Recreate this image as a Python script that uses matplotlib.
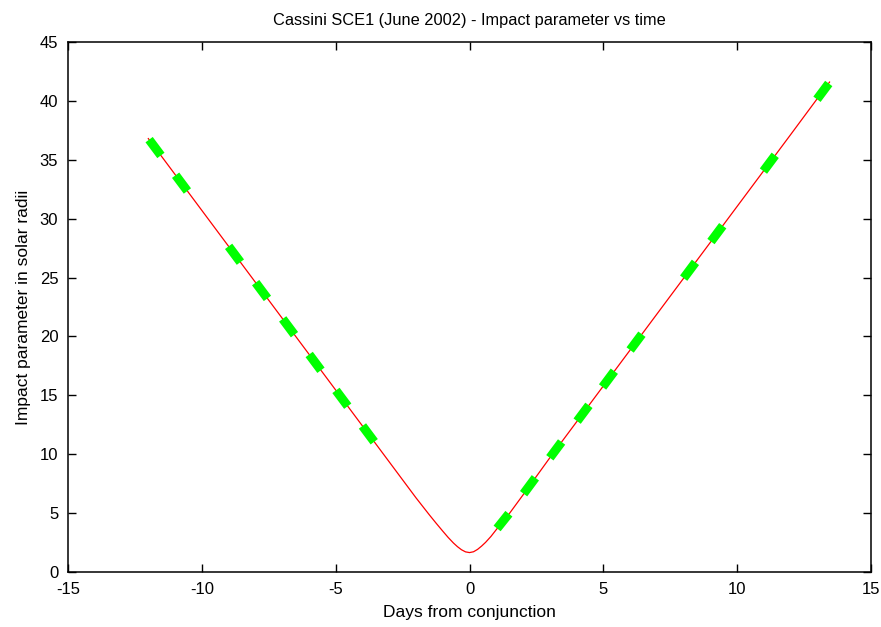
import numpy as np
import matplotlib
matplotlib.use("Agg")
import matplotlib.pyplot as plt

# impact parameter curve
days = [-12.0, -10, -8, -6, -4, -3, -2, -1.5, -1.25, -1, -0.8, -0.6, -0.45, -0.3, -0.15, 0,
        0.15, 0.3, 0.45, 0.6, 0.8, 1, 1.25, 1.5, 2, 3, 4, 6, 8, 10, 12, 13.45]
impact = [36.8, 30.7, 24.6, 18.5, 12.4, 9.35, 6.3, 4.85, 4.15, 3.47, 2.94, 2.46, 2.15, 1.89, 1.71, 1.65,
          1.72, 1.92, 2.2, 2.52, 3.02, 3.6, 4.3, 5.0, 6.55, 9.7, 12.75, 18.85, 24.95, 31.05, 37.15, 41.6]

# tracking passes (green dashes): start/end day and impact parameter
pass_t0 = [-11.97, -10.98, -9.00, -7.99, -6.98, -5.99, -4.99, -4.00,
           1.03, 2.02, 3.00, 4.02, 4.97, 6.00, 8.00, 9.02, 10.98, 12.98]
pass_t1 = [-11.53, -10.54, -8.56, -7.55, -6.54, -5.55, -4.55, -3.56,
           1.47, 2.46, 3.44, 4.46, 5.41, 6.44, 8.44, 9.46, 11.42, 13.42]
pass_b0 = [36.71, 33.69, 27.65, 24.57, 21.49, 18.47, 15.42, 12.4,
           3.7, 6.65, 9.7, 12.81, 15.71, 18.85, 24.95, 28.06, 34.04, 40.14]
pass_b1 = [35.37, 32.35, 26.31, 23.23, 20.15, 17.13, 14.08, 11.06,
           4.95, 8.0, 11.04, 14.15, 17.05, 20.19, 26.29, 29.4, 35.38, 41.48]

plt.rcParams['font.family'] = ['Liberation Sans', 'DejaVu Sans']
plt.rcParams['axes.unicode_minus'] = False

fig = plt.figure(figsize=(8.81, 6.27), dpi=100)
ax = fig.add_axes([0.0772, 0.0877, 0.9115, 0.8453])

ax.plot(days, impact, color="#ff0000", lw=0.9, zorder=2)
for t0, t1, b0, b1 in zip(pass_t0, pass_t1, pass_b0, pass_b1):
    ax.plot([t0, t1], [b0, b1], color="#00ff00", lw=6.5, solid_capstyle="butt", zorder=3)

ax.set_xlim(-15, 15)
ax.set_ylim(0, 45)
ax.set_xticks(range(-15, 16, 5))
ax.set_yticks(range(0, 46, 5))
ax.tick_params(direction="in", length=6, width=1, top=True, right=True,
               labelsize=12, pad=7, colors="black")
for s in ax.spines.values():
    s.set_linewidth(1.1)

ax.set_title("Cassini SCE1 (June 2002) - Impact parameter vs time", fontsize=11.8, pad=12)
ax.set_xlabel("Days from conjunction", fontsize=12.5, labelpad=6)
ax.set_ylabel("Impact parameter in solar radii", fontsize=12.5, labelpad=6)

fig.savefig("out.png", dpi=100)
